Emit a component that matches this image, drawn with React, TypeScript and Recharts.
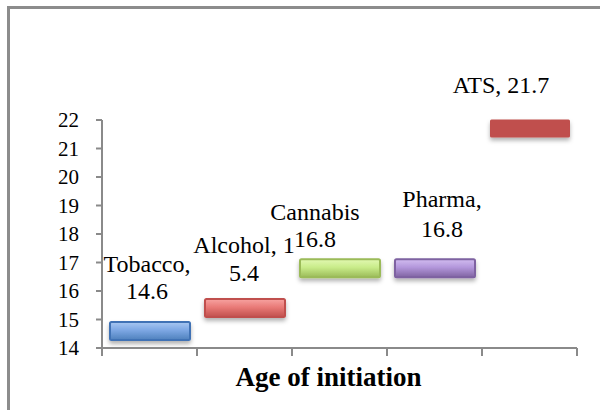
import React from 'react';
import { BarChart, Bar, XAxis, YAxis, LabelList, Label } from 'recharts';

const categories = ['Tobacco', 'Alcohol', 'Cannabis', 'Pharma', 'ATS'];
const ages = [14.6, 15.4, 16.8, 16.8, 21.7];
const labelLines = [
  ['Tobacco,', '14.6'],
  ['Alcohol, 1', '5.4'],
  ['Cannabis', '16.8'],
  ['Pharma,', '16.8'],
  ['ATS, 21.7'],
];
const yTicks = [14, 15, 16, 17, 18, 19, 20, 21, 22];
const xBoundaryTicks = [0, 1, 2, 3, 4, 5];
const axisTitle = 'Age of initiation';

const data = categories.map((name, i) => ({ name, pos: i + 0.5, age: ages[i] }));

// styles / layout
const FONT = 'Liberation Serif, DejaVu Serif, serif';
const AXIS = '#8a8a8a';
const barStyles = [
  { grad: 'gBlue', stroke: '#3f72b5' },
  { grad: 'gRed', stroke: '#c0504d' },
  { grad: 'gGreen', stroke: '#9bbb59' },
  { grad: 'gPurple', stroke: '#7e62a1' },
  { grad: null, fill: '#c0504d', stroke: 'none' },
];
const labelLayout = [
  { dx: -3, dy: [-59, -32] },
  { dx: -1, dy: [-55, -27] },
  { dx: -25, dy: [-48, -21] },
  { dx: 7, dy: [-61, -31] },
  { dx: -29, dy: [-36] },
];
const BAR_THICK = 18;

const BarShape = (props: any) => {
  const { x, y, width, payload } = props;
  const i = categories.indexOf(payload.name);
  const s = barStyles[i];
  const fill = s.grad ? `url(#${s.grad})` : s.fill;
  return (
    <g filter="url(#shadow)">
      <rect
        x={x + 1}
        y={y - BAR_THICK / 2}
        width={width - 2}
        height={BAR_THICK}
        rx={1.5}
        fill={fill}
        stroke={s.stroke}
        strokeWidth={s.grad ? 2 : 0}
      />
    </g>
  );
};

const renderLabel = (props: any) => {
  const { x, y, width, value } = props;
  const i = categories.indexOf(value);
  if (i < 0) return null;
  const cx = x + width / 2 + labelLayout[i].dx;
  return (
    <g>
      {labelLines[i].map((t, k) => (
        <text
          key={k}
          x={cx}
          y={y + labelLayout[i].dy[k]}
          textAnchor="middle"
          style={{ fontFamily: FONT, fontSize: 24 }}
          fill="#000"
        >
          {t}
        </text>
      ))}
    </g>
  );
};

const Grad = ({ id, top, mid, bot }: { id: string; top: string; mid: string; bot: string }) => (
  <linearGradient id={id} x1="0" y1="0" x2="0" y2="1">
    <stop offset="0%" stopColor={top} />
    <stop offset="45%" stopColor={mid} />
    <stop offset="100%" stopColor={bot} />
  </linearGradient>
);

export default function App() {
  return (
    <div style={{ position: 'absolute', left: 0, top: 0, width: 600, height: 410, overflow: 'hidden', background: '#fff', fontFamily: FONT }}>
      <div
        style={{
          position: 'absolute',
          left: 7,
          top: 6,
          width: 640,
          height: 440,
          border: '3px solid #8c8c8c',
          boxSizing: 'border-box',
        }}
      />
      <div style={{ position: 'absolute', left: 0, top: 0 }}>
        <BarChart width={600} height={410} data={data} margin={{ top: 120, right: 23, left: 0, bottom: 12 }} style={{ fontFamily: FONT }}>
          <defs>
            <Grad id="gBlue" top="#a9c8f2" mid="#7ea8e4" bot="#4f81bd" />
            <Grad id="gRed" top="#f7a3a1" mid="#e97a77" bot="#c0504d" />
            <Grad id="gGreen" top="#e2f8b2" mid="#c9ec8a" bot="#9bbb59" />
            <Grad id="gPurple" top="#d2bdf0" mid="#b397db" bot="#8064a2" />
            <filter id="shadow" x="-10%" y="-40%" width="120%" height="200%">
              <feDropShadow dx="0" dy="3" stdDeviation="2" floodColor="#000" floodOpacity="0.3" />
            </filter>
          </defs>
          <XAxis
            type="number"
            dataKey="pos"
            domain={[0, 5]}
            ticks={xBoundaryTicks}
            interval={0}
            tickFormatter={() => ''}
            tickSize={8}
            height={50}
            axisLine={{ stroke: AXIS, strokeWidth: 2 }}
            tickLine={{ stroke: AXIS, strokeWidth: 2 }}
          >
            <Label
              content={(p: any) => {
                const vb = p.viewBox;
                return (
                  <text
                    x={vb.x + vb.width / 2 - 11}
                    y={vb.y + 38}
                    textAnchor="middle"
                    style={{ fontFamily: FONT, fontWeight: 'bold', fontSize: 27 }}
                    fill="#000"
                  >
                    {axisTitle}
                  </text>
                );
              }}
            />
          </XAxis>
          <YAxis
            type="number"
            domain={[14, 22]}
            ticks={yTicks}
            interval={0}
            width={102}
            tickSize={6}
            tickMargin={17}
            tick={{ fill: '#000', fontSize: 21, style: { fontFamily: FONT } }}
            axisLine={{ stroke: AXIS, strokeWidth: 2 }}
            tickLine={{ stroke: AXIS, strokeWidth: 2 }}
          />
          <Bar dataKey="age" barSize={82} isAnimationActive={false} shape={BarShape}>
            <LabelList dataKey="name" content={renderLabel} />
          </Bar>
        </BarChart>
      </div>
    </div>
  );
}
